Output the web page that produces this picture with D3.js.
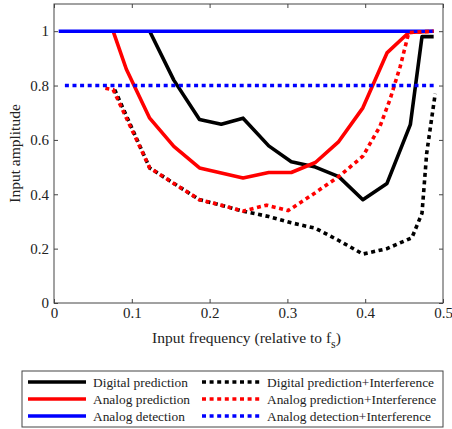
<!DOCTYPE html>
<html lang="en">
<head>
<meta charset="UTF-8">
<title>Input amplitude vs input frequency</title>
<style>
  body { margin: 0; background: #fff; }
  svg { display: block; }
  text { font-family: 'Liberation Serif', 'DejaVu Serif', 'Times New Roman', serif; }
</style>
</head>
<body>
<svg id="chart" width="452" height="429"></svg>
<script src="https://cdn.jsdelivr.net/npm/d3@7"></script>
<script>
// data
const digitalX = [0.123, 0.154, 0.187, 0.215, 0.243, 0.276, 0.305, 0.336, 0.366, 0.397, 0.428, 0.458, 0.473, 0.488];
const digitalY = [1.0, 0.82, 0.675, 0.658, 0.68, 0.578, 0.52, 0.50, 0.465, 0.38, 0.44, 0.656, 0.98, 0.98];

const analogX = [0.076, 0.093, 0.123, 0.154, 0.187, 0.243, 0.276, 0.305, 0.336, 0.366, 0.397, 0.428, 0.456, 0.488];
const analogY = [1.0, 0.86, 0.68, 0.576, 0.497, 0.46, 0.48, 0.48, 0.517, 0.594, 0.718, 0.92, 0.995, 1.0];

const detectX = [0.006, 0.488];
const detectY = [1.0, 1.0];

const digitalIntX = [0.078, 0.123, 0.154, 0.187, 0.215, 0.243, 0.276, 0.305, 0.336, 0.366, 0.397, 0.428, 0.46, 0.473, 0.479, 0.49];
const digitalIntY = [0.785, 0.497, 0.44, 0.38, 0.36, 0.338, 0.318, 0.295, 0.275, 0.23, 0.18, 0.2, 0.24, 0.33, 0.55, 0.77];

const analogIntX = [0.066, 0.076, 0.123, 0.154, 0.187, 0.215, 0.243, 0.273, 0.301, 0.333, 0.366, 0.397, 0.419, 0.432, 0.445, 0.456, 0.488];
const analogIntY = [0.79, 0.785, 0.497, 0.44, 0.38, 0.36, 0.338, 0.36, 0.34, 0.40, 0.465, 0.54, 0.65, 0.75, 0.87, 0.995, 1.0];

const detectIntX = [0.014, 0.488];
const detectIntY = [0.8, 0.8];

const xTicks = [0, 0.1, 0.2, 0.3, 0.4, 0.5];
const yTicks = [0, 0.2, 0.4, 0.6, 0.8, 1];

const seriesNames = ["Digital prediction", "Analog prediction", "Analog detection",
  "Digital prediction+Interference", "Analog prediction+Interference", "Analog detection+Interference"];
const seriesColors = ["#000000", "#ff0000", "#0000ff", "#000000", "#ff0000", "#0000ff"];

const series = [
  { x: digitalX, y: digitalY, dotted: false },
  { x: analogX, y: analogY, dotted: false },
  { x: detectX, y: detectY, dotted: false },
  { x: digitalIntX, y: digitalIntY, dotted: true },
  { x: analogIntX, y: analogIntY, dotted: true },
  { x: detectIntX, y: detectIntY, dotted: true }
];

const svg = d3.select("#chart");
const plotL = 54, plotR = 443, plotT = 4, plotB = 303;
const serif = "'Liberation Serif', 'DejaVu Serif', 'Times New Roman', serif";

const x = d3.scaleLinear().domain([0, 0.5]).range([plotL, plotR]);
const y = d3.scaleLinear().domain([0, 1.1]).range([plotB, plotT]);

const lineW = 3.6, dash = "4,3.6";

// axes, ticks inward, mirrored on top/right
function styleAxis(g) {
  g.select(".domain").remove();
  g.attr("font-family", serif).attr("font-size", 15);
  g.selectAll(".tick line").attr("stroke", "#444");
  g.selectAll(".tick text").attr("fill", "#222");
}
svg.append("g").attr("transform", `translate(0,${plotB})`)
  .call(d3.axisBottom(x).tickValues(xTicks).tickFormat(d3.format("")).tickSizeInner(-4).tickSizeOuter(0).tickPadding(4))
  .call(styleAxis);
svg.append("g").attr("transform", `translate(0,${plotT})`)
  .call(d3.axisTop(x).tickValues(xTicks).tickFormat("").tickSizeInner(-4).tickSizeOuter(0))
  .call(styleAxis);
svg.append("g").attr("transform", `translate(${plotL},0)`)
  .call(d3.axisLeft(y).tickValues(yTicks).tickFormat(d3.format("")).tickSizeInner(-4).tickSizeOuter(0).tickPadding(5))
  .call(styleAxis);
svg.append("g").attr("transform", `translate(${plotR},0)`)
  .call(d3.axisRight(y).tickValues(yTicks).tickFormat("").tickSizeInner(-4).tickSizeOuter(0))
  .call(styleAxis);

const line = d3.line().x(d => x(d[0])).y(d => y(d[1]));

series.forEach((s, i) => {
  svg.append("path")
    .datum(s.x.map((v, j) => [v, s.y[j]]))
    .attr("d", line)
    .attr("fill", "none")
    .attr("stroke", seriesColors[i])
    .attr("stroke-width", lineW)
    .attr("stroke-linejoin", "round")
    .attr("stroke-dasharray", s.dotted ? dash : null);
});

// frame
svg.append("rect")
  .attr("x", plotL).attr("y", plotT)
  .attr("width", plotR - plotL).attr("height", plotB - plotT)
  .attr("fill", "none").attr("stroke", "#444").attr("stroke-width", 1);

// axis labels
const xl = svg.append("text")
  .attr("x", (plotL + plotR) / 2 - 2).attr("y", 343)
  .attr("text-anchor", "middle").attr("font-size", 15.5).attr("fill", "#222")
  .text("Input frequency (relative to f");
xl.append("tspan").attr("font-size", 12).attr("dy", 5).text("s");
xl.append("tspan").attr("dy", -5).text(")");

svg.append("text")
  .attr("transform", `translate(20,${(plotT + plotB) / 2}) rotate(-90)`)
  .attr("text-anchor", "middle").attr("font-size", 15.5).attr("fill", "#222")
  .text("Input amplitude");

// legend
svg.append("rect")
  .attr("x", 22).attr("y", 371).attr("width", 421).attr("height", 56)
  .attr("fill", "#fff").attr("stroke", "#444").attr("stroke-width", 1);

const rowY = [382, 399, 416];
series.forEach((s, i) => {
  const col = Math.floor(i / 3), row = i % 3;
  const x0 = col === 0 ? 28 : 202;
  svg.append("line")
    .attr("x1", x0).attr("x2", x0 + 58)
    .attr("y1", rowY[row]).attr("y2", rowY[row])
    .attr("stroke", seriesColors[i]).attr("stroke-width", lineW)
    .attr("stroke-dasharray", s.dotted ? dash : null);
  svg.append("text")
    .attr("x", x0 + 65).attr("y", rowY[row] + 5)
    .attr("font-size", 13.4).attr("fill", "#222")
    .text(seriesNames[i]);
});
</script>
</body>
</html>
